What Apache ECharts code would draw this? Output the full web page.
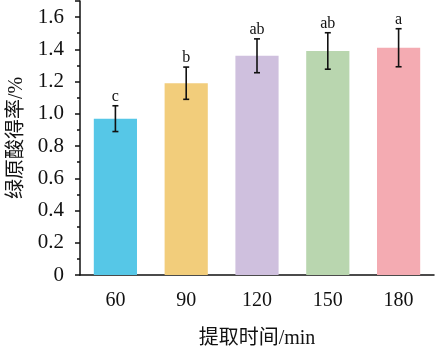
<!DOCTYPE html>
<html>
<head>
<meta charset="utf-8">
<script src="https://cdn.jsdelivr.net/npm/echarts@6/dist/echarts.min.js"></script>
<style>
  html, body { margin: 0; padding: 0; background: #fff; }
  #main { width: 436px; height: 352px; }
</style>
</head>
<body>
<div id="main"></div>
<script>
// 数据
const times = ['60', '90', '120', '150', '180'];
const yields = [0.97, 1.19, 1.36, 1.39, 1.41];
const errs = [0.08, 0.10, 0.105, 0.113, 0.118];
const letters = ['c', 'b', 'ab', 'ab', 'a'];
const barColors = ['#56c7e7', '#f2cd7b', '#cfc0de', '#b9d6af', '#f4abb2'];

const serif = 'Liberation Serif, Noto Sans CJK SC';

let chart = echarts.init(document.getElementById('main'));

// 误差线 + 字母标记
function renderErr(params, api) {
  let i = api.value(0);
  let mean = api.value(1);
  let e = api.value(2);
  let top = api.coord([i, mean + e]);
  let bot = api.coord([i, mean - e]);
  let cap = 3;
  let st = { stroke: '#111', lineWidth: 1.6 };
  return {
    type: 'group',
    children: [
      { type: 'line', shape: { x1: top[0], y1: top[1], x2: bot[0], y2: bot[1] }, style: st },
      { type: 'line', shape: { x1: top[0] - cap, y1: top[1], x2: top[0] + cap, y2: top[1] }, style: st },
      { type: 'line', shape: { x1: bot[0] - cap, y1: bot[1], x2: bot[0] + cap, y2: bot[1] }, style: st },
      {
        type: 'text',
        style: {
          text: letters[i], x: top[0], y: top[1] - 1,
          align: 'center', verticalAlign: 'bottom',
          font: '16px ' + serif, fill: '#111'
        }
      }
    ]
  };
}

let option = {
  animation: false,
  grid: { left: 80, right: 2, top: 1, bottom: 77, outerBoundsMode: 'none', containLabel: false },
  xAxis: [
    {
      type: 'category',
      data: times,
      name: '提取时间/min',
      nameLocation: 'middle',
      nameGap: 54,
      nameTextStyle: { fontFamily: serif, fontSize: 20, color: '#111' },
      axisLine: { lineStyle: { color: '#111', width: 1.5 } },
      axisTick: { alignWithLabel: true, length: 5, lineStyle: { color: '#111', width: 1.5 } },
      axisLabel: { fontFamily: serif, fontSize: 20, color: '#111', margin: 16 }
    },
    {
      type: 'category',
      data: times,
      position: 'bottom',
      axisLine: { show: false },
      axisTick: { length: 3, lineStyle: { color: '#111', width: 1.5 } },
      axisLabel: { show: false }
    }
  ],
  yAxis: {
    type: 'value',
    min: 0,
    max: 1.7,
    interval: 0.2,
    name: '绿原酸得率/%',
    nameLocation: 'middle',
    nameGap: 52,
    nameTextStyle: { fontFamily: serif, fontSize: 20, color: '#111' },
    axisLine: { show: true, lineStyle: { color: '#111', width: 1.5 } },
    axisTick: { show: true, length: 5, lineStyle: { color: '#111', width: 1.5 } },
    minorTick: { show: true, splitNumber: 2, length: 3, lineStyle: { color: '#111', width: 1.5 } },
    splitLine: { show: false },
    axisLabel: {
      fontFamily: serif, fontSize: 21, color: '#111', margin: 16,
      showMaxLabel: false,
      formatter: function (v) { return v === 0 ? '0' : v.toFixed(1); }
    }
  },
  series: [
    {
      type: 'bar',
      barWidth: '61%',
      data: yields.map(function (v, i) {
        return { value: v, itemStyle: { color: barColors[i] } };
      })
    },
    {
      type: 'custom',
      renderItem: renderErr,
      z: 10,
      encode: { x: 0, y: 1 },
      data: yields.map(function (v, i) { return [i, v, errs[i]]; })
    }
  ]
};

chart.setOption(option);
</script>
</body>
</html>
